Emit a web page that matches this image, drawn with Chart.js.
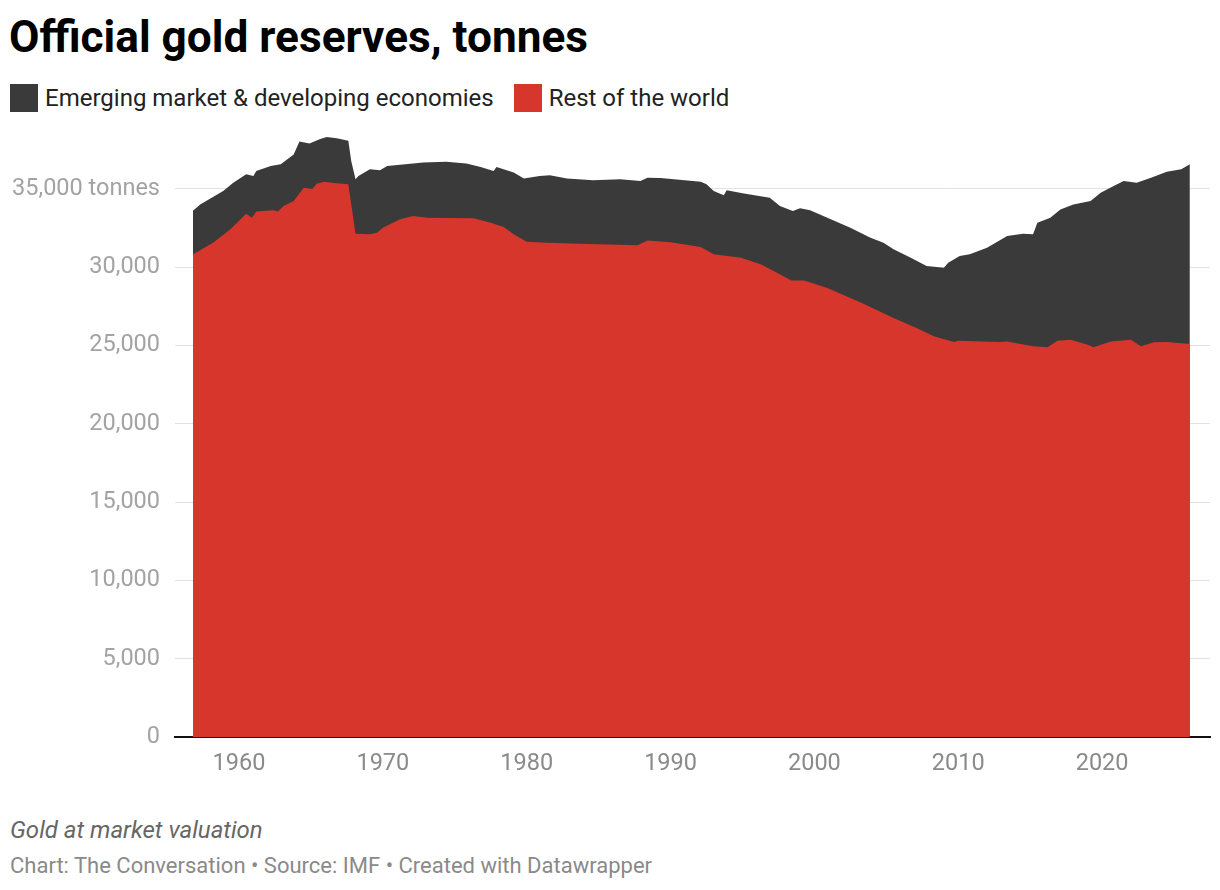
<!DOCTYPE html>
<html>
<head>
<meta charset="utf-8">
<script src="https://cdn.jsdelivr.net/npm/chart.js@4"></script>
<style>
    body { margin: 0; background: #fff; font-family: Roboto, sans-serif; }
    #title { position: absolute; left: 9px; top: 11px; font-size: 44.2px; font-weight: 700; color: #000; white-space: nowrap; }
    #legend { position: absolute; left: 10px; top: 84px; display: flex; align-items: center; font-size: 24px; color: #222; }
    .key { display: flex; align-items: center; margin-right: 20px; }
    .swatch { width: 28px; height: 28px; margin-right: 7px; }
    #chart { position: absolute; left: 0; top: 105px; }
    #note { position: absolute; left: 10px; top: 816px; font-size: 24px; font-style: italic; color: #666; }
    #source { position: absolute; left: 10px; top: 853px; font-size: 22px; color: #8a8a8a; }
</style>
</head>
<body>
<div id="title">Official gold reserves, tonnes</div>
<div id="legend">
    <div class="key"><div class="swatch" style="background:#3a3a3a"></div>Emerging market &amp; developing economies</div>
    <div class="key"><div class="swatch" style="background:#d6362b"></div>Rest of the world</div>
</div>
<canvas id="chart" width="1220" height="687"></canvas>
<div id="note">Gold at market valuation</div>
<div id="source">Chart: The Conversation • Source: IMF • Created with Datawrapper</div>

<script>
// top edge of the stack (all official holdings)
const totalYears = [1956.8, 1957.3, 1958.9, 1959.6, 1960.5, 1961.0, 1961.2, 1962.2, 1962.9, 1963.8,
    1964.2, 1964.9, 1965.6, 1966.1, 1966.8, 1967.6, 1967.8, 1968.1, 1968.3, 1969.1,
    1969.8, 1970.3, 1972.1, 1972.8, 1974.4, 1975.8, 1976.8, 1977.7, 1977.9, 1979.1,
    1979.8, 1980.9, 1981.6, 1982.8, 1984.6, 1986.5, 1987.9, 1988.4, 1989.3, 1992.1,
    1992.5, 1993.0, 1993.7, 1993.9, 1995.1, 1996.9, 1997.6, 1998.5, 1999.0, 1999.7,
    2000.9, 2002.5, 2003.9, 2004.8, 2005.5, 2006.7, 2007.8, 2009.0, 2009.3, 2010.1,
    2010.8, 2012.0, 2013.4, 2014.5, 2015.2, 2015.5, 2016.4, 2017.1, 2018.0, 2019.2,
    2019.9, 2020.8, 2021.5, 2022.4, 2023.4, 2024.5, 2025.5, 2026.1];
const totalTonnes = [33600, 34000, 34870, 35400, 35930, 35830, 36150, 36470, 36580, 37200,
    38020, 37900, 38170, 38320, 38240, 38070, 36790, 35620, 35830, 36250,
    36190, 36470, 36620, 36680, 36740, 36620, 36400, 36150, 36400, 36040,
    35660, 35830, 35870, 35660, 35550, 35620, 35500, 35720, 35700, 35460,
    35300, 34870, 34600, 34910, 34700, 34440, 33910, 33590, 33760, 33630,
    33160, 32520, 31880, 31560, 31140, 30600, 30070, 29960, 30280, 30710,
    30820, 31240, 31990, 32140, 32100, 32840, 33160, 33690, 34000, 34230,
    34760, 35190, 35510, 35400, 35720, 36090, 36250, 36580];

// rest of the world (bottom band)
const restYears = [1956.8, 1958.2, 1959.4, 1960.5, 1960.9, 1961.2, 1962.4, 1962.7, 1963.1, 1963.8,
    1964.5, 1965.1, 1965.4, 1965.9, 1966.6, 1967.6, 1968.1, 1969.1, 1969.6, 1970.0,
    1970.7, 1971.2, 1972.1, 1973.1, 1976.3, 1977.5, 1978.4, 1979.1, 1980.0, 1981.4,
    1983.7, 1987.7, 1988.4, 1990.0, 1992.1, 1993.0, 1994.9, 1996.3, 1997.4, 1998.4,
    1999.3, 2000.9, 2003.3, 2005.5, 2007.1, 2008.3, 2009.7, 2010.0, 2012.9, 2013.4,
    2015.2, 2016.2, 2016.9, 2017.8, 2019.0, 2019.4, 2020.6, 2022.0, 2022.7, 2023.6,
    2024.5, 2026.1];
const restTonnes = [30820, 31560, 32420, 33420, 33160, 33550, 33630, 33550, 33910, 34230,
    35080, 35000, 35330, 35460, 35380, 35300, 32140, 32100, 32200, 32520,
    32840, 33060, 33270, 33160, 33120, 32840, 32570, 32100, 31630, 31560,
    31500, 31410, 31710, 31600, 31290, 30820, 30600, 30170, 29640, 29150,
    29150, 28680, 27720, 26760, 26120, 25590, 25220, 25310, 25220, 25250,
    24950, 24890, 25310, 25370, 25050, 24890, 25250, 25370, 24950, 25200,
    25220, 25100];

const xTicks = [1960, 1970, 1980, 1990, 2000, 2010, 2020];
const yTicks = [0, 5000, 10000, 15000, 20000, 25000, 30000, 35000];

function toPoints(xs, ys) {
    return xs.map((x, i) => ({ x: x, y: ys[i] }));
}

const ctx = document.getElementById('chart').getContext('2d');
new Chart(ctx, {
    type: 'line',
    data: {
        datasets: [
            {
                label: 'Rest of the world',
                data: toPoints(restYears, restTonnes),
                backgroundColor: '#d6362b',
                borderWidth: 0,
                pointRadius: 0,
                fill: 'origin'
            },
            {
                label: 'Emerging market & developing economies',
                data: toPoints(totalYears, totalTonnes),
                backgroundColor: '#3a3a3a',
                borderWidth: 0,
                pointRadius: 0,
                fill: 'origin'
            }
        ]
    },
    options: {
        responsive: false,
        animation: false,
        layout: { padding: { top: 0, right: 10, left: 0, bottom: 0 } },
        plugins: { legend: { display: false }, tooltip: { enabled: false } },
        scales: {
            x: {
                type: 'linear',
                min: 1955.55,
                max: 2027.5,
                afterBuildTicks: scale => { scale.ticks = xTicks.map(v => ({ value: v })); },
                afterFit: scale => { scale.height = 55; },
                grid: { display: false, drawTicks: false },
                border: { display: true, color: '#111', width: 2 },
                ticks: {
                    padding: 13,
                    color: '#8a8a8a',
                    font: { family: 'Roboto', size: 23.5 },
                    callback: v => String(v)
                }
            },
            y: {
                min: 0,
                max: 38500,
                afterBuildTicks: scale => { scale.ticks = yTicks.map(v => ({ value: v })); },
                afterFit: scale => { scale.width = 175; },
                grid: {
                    drawTicks: false,
                    color: c => c.tick && c.tick.value === 0 ? 'rgba(0,0,0,0)' : '#e2e2e2',
                    lineWidth: 1
                },
                border: { display: false },
                ticks: {
                    padding: 15,
                    color: '#a3a3a3',
                    font: { family: 'Roboto', size: 23.5 },
                    callback: v => v === 35000 ? '35,000 tonnes' : v.toLocaleString('en-US')
                }
            }
        }
    }
});
</script>
</body>
</html>
